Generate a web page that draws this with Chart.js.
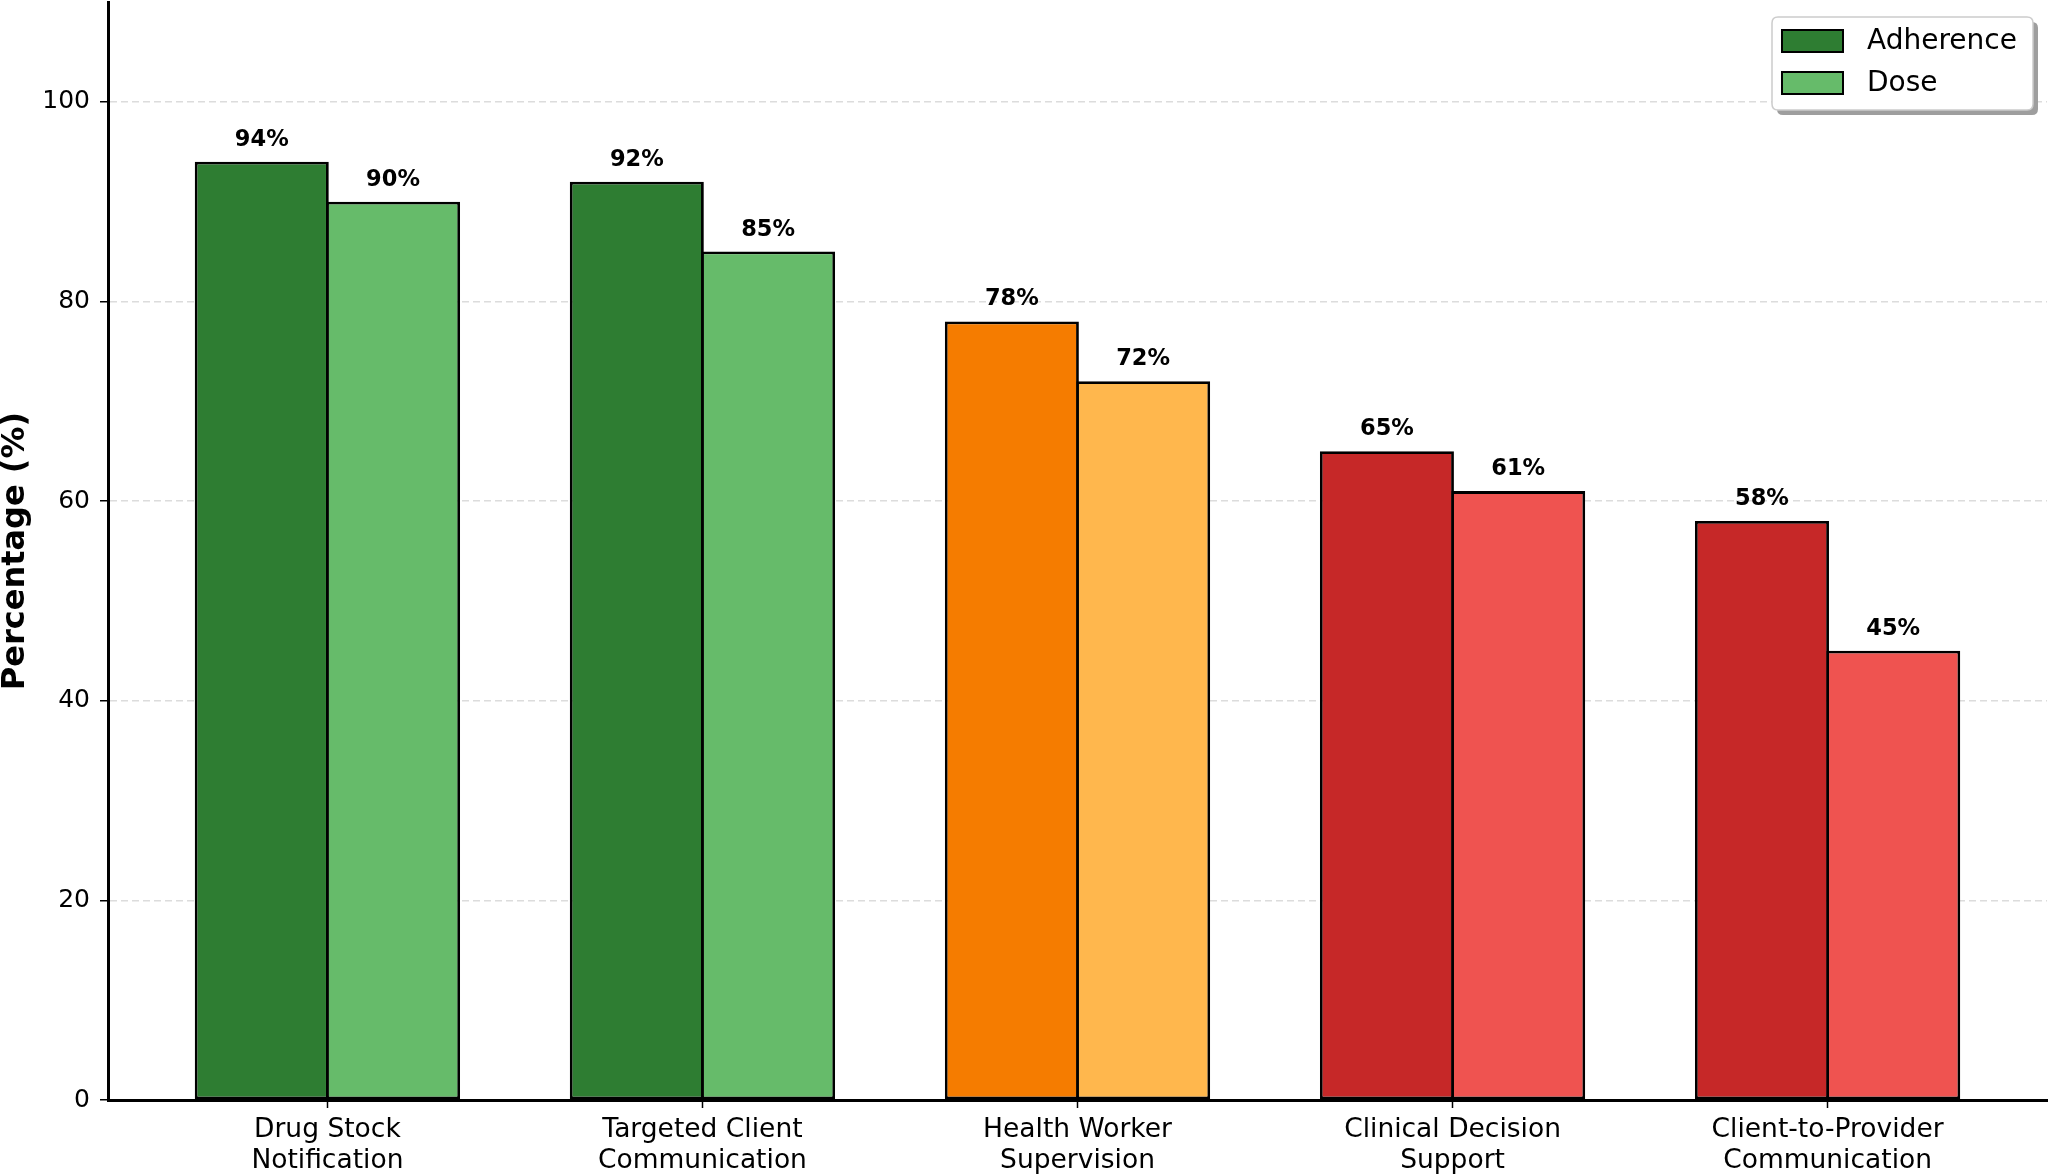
<!DOCTYPE html>
<html>
<head>
<meta charset="utf-8">
<script src="https://cdn.jsdelivr.net/npm/chart.js@4.4.1/dist/chart.umd.min.js"></script>
<style>
  html, body { margin: 0; padding: 0; background: #ffffff; }
  #wrap { width: 2050px; height: 1174px; }
  canvas { display: block; }
</style>
</head>
<body>
<div id="wrap"><canvas id="c" width="2050" height="1174"></canvas></div>
<script>
// ---- data ----
const categories = [
  ["Drug Stock", "Notification"],
  ["Targeted Client", "Communication"],
  ["Health Worker", "Supervision"],
  ["Clinical Decision", "Support"],
  ["Client-to-Provider", "Communication"]
];
const seriesNames = ["Adherence", "Dose"];
const adherence = [94, 92, 78, 65, 58];
const dose = [90, 85, 72, 61, 45];
const yTicks = [0, 20, 40, 60, 80, 100];
const yTitle = "Percentage (%)";

// ---- styles ----
const adherenceColors = ["#2e7d32", "#2e7d32", "#f57c00", "#c62828", "#c62828"];
const doseColors = ["#66bb6a", "#66bb6a", "#ffb74d", "#ef5350", "#ef5350"];
const legendColors = ["#2e7d32", "#66bb6a"];

const toPoints = (arr) => arr.map((v, i) => ({ x: i, y: v }));

const valueLabels = {
  id: 'valueLabels',
  afterDatasetsDraw(chart) {
    const ctx = chart.ctx;
    ctx.save();
    ctx.font = 'bold 22.5px "DejaVu Sans"';
    ctx.fillStyle = '#000';
    ctx.textAlign = 'center';
    ctx.textBaseline = 'alphabetic';
    chart.data.datasets.forEach((ds, di) => {
      const meta = chart.getDatasetMeta(di);
      meta.data.forEach((el, i) => {
        ctx.fillText(ds.data[i].y + '%', el.x, el.y - 16);
      });
    });
    ctx.restore();
  }
};

const boxLegend = {
  id: 'boxLegend',
  afterDraw(chart) {
    const ctx = chart.ctx;
    const ca = chart.chartArea;
    const w = 261, h = 93;
    const x = ca.right - 14 - w;
    const y = ca.top + 15;
    const r = 6;
    function rr(px, py) {
      ctx.beginPath();
      ctx.moveTo(px + r, py);
      ctx.lineTo(px + w - r, py);
      ctx.quadraticCurveTo(px + w, py, px + w, py + r);
      ctx.lineTo(px + w, py + h - r);
      ctx.quadraticCurveTo(px + w, py + h, px + w - r, py + h);
      ctx.lineTo(px + r, py + h);
      ctx.quadraticCurveTo(px, py + h, px, py + h - r);
      ctx.lineTo(px, py + r);
      ctx.quadraticCurveTo(px, py, px + r, py);
      ctx.closePath();
    }
    ctx.save();
    rr(x + 5, y + 5);
    ctx.fillStyle = '#9e9e9e';
    ctx.fill();
    rr(x, y);
    ctx.fillStyle = '#ffffff';
    ctx.fill();
    ctx.strokeStyle = '#cccccc';
    ctx.lineWidth = 1.5;
    ctx.stroke();
    ctx.font = '28px "DejaVu Sans"';
    ctx.textBaseline = 'middle';
    ctx.textAlign = 'left';
    seriesNames.forEach((name, i) => {
      const cy = y + 24 + i * 42;
      ctx.fillStyle = legendColors[i];
      ctx.fillRect(x + 10, cy - 11, 61, 22);
      ctx.strokeStyle = '#000';
      ctx.lineWidth = 2;
      ctx.strokeRect(x + 10, cy - 11, 61, 22);
      ctx.fillStyle = '#000';
      ctx.fillText(name, x + 95, cy + 1);
    });
    ctx.restore();
  }
};

const ctx = document.getElementById('c').getContext('2d');
new Chart(ctx, {
  type: 'bar',
  data: {
    datasets: [
      {
        label: seriesNames[0],
        data: toPoints(adherence),
        backgroundColor: adherenceColors,
        borderColor: '#000',
        borderWidth: 2.8,
        borderSkipped: false,
        categoryPercentage: 0.7,
        barPercentage: 1.021
      },
      {
        label: seriesNames[1],
        data: toPoints(dose),
        backgroundColor: doseColors,
        borderColor: '#000',
        borderWidth: 2.8,
        borderSkipped: false,
        categoryPercentage: 0.7,
        barPercentage: 1.021
      }
    ]
  },
  options: {
    responsive: false,
    animation: false,
    devicePixelRatio: 1,
    layout: { padding: { top: 2, right: 3, left: 0, bottom: 0 } },
    plugins: {
      legend: { display: false },
      tooltip: { enabled: false }
    },
    scales: {
      x: {
        type: 'linear',
        offset: false,
        min: -0.585,
        max: 4.585,
        afterFit(scale) {
          scale.height = 74;
          scale.paddingLeft = 0; scale.paddingRight = 0;
          scale.paddingTop = 0; scale.paddingBottom = 0;
        },
        afterBuildTicks(scale) {
          scale.ticks = categories.map((c, i) => ({ value: i }));
        },
        ticks: {
          autoSkip: false,
          maxRotation: 0,
          minRotation: 0,
          padding: 6.5,
          color: '#000',
          font: { family: 'DejaVu Sans', size: 26.5, lineHeight: 1.17 },
          callback: (v) => categories[v]
        },
        grid: {
          display: true,
          offset: false,
          drawOnChartArea: false,
          drawTicks: true,
          tickLength: 8,
          tickColor: '#000',
          tickWidth: 1.5
        },
        border: { display: true, color: '#000', width: 3 }
      },
      y: {
        min: 0,
        max: 110,
        afterFit(scale) {
          scale.width = 108;
          scale.paddingTop = 0; scale.paddingBottom = 0;
          scale.paddingLeft = 0; scale.paddingRight = 0;
        },
        afterBuildTicks(scale) {
          scale.ticks = yTicks.map(v => ({ value: v }));
        },
        ticks: {
          padding: 10,
          color: '#000',
          font: { family: 'DejaVu Sans', size: 25 }
        },
        grid: {
          color: '#dcdcdc',
          lineWidth: 1.5,
          tickBorderDash: [],
          tickColor: '#000',
          tickWidth: 1.5,
          tickLength: 8,
          drawTicks: true
        },
        border: { display: true, color: '#000', width: 3, dash: [7, 4] },
        title: {
          display: true,
          text: yTitle,
          color: '#000',
          padding: { top: 0, bottom: 0 },
          font: { family: 'DejaVu Sans', size: 32, weight: 'bold', lineHeight: 1 }
        }
      }
    }
  },
  plugins: [valueLabels, boxLegend]
});
</script>
</body>
</html>
